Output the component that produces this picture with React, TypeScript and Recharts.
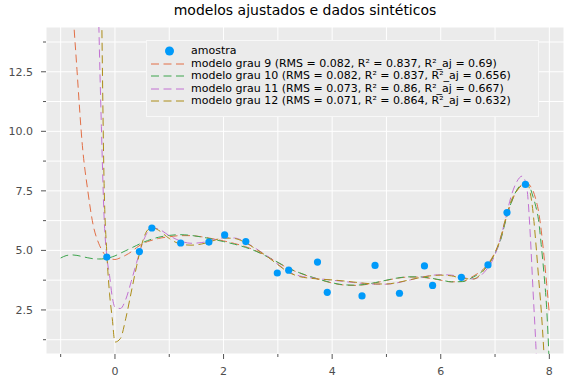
import { ComposedChart, Line, Scatter, XAxis, YAxis, CartesianGrid, Legend } from 'recharts';

// amostra (dados sintéticos)
const sampleX = [-0.15, 0.45, 0.68, 1.21, 1.73, 2.02, 2.41, 2.99, 3.2, 3.73, 3.91, 4.55, 4.79, 5.24, 5.7, 5.85, 6.38, 6.87, 7.22, 7.56];
const sampleY = [4.72, 4.95, 5.94, 5.31, 5.35, 5.65, 5.37, 4.05, 4.17, 4.51, 3.24, 3.09, 4.37, 3.2, 4.35, 3.53, 3.87, 4.39, 6.59, 7.77];

// grade de x dos modelos
const xGrid = [
  -1.0, -0.9, -0.8, -0.7, -0.6, -0.5, -0.4, -0.3, -0.25, -0.2, -0.15, -0.1, -0.05, 0,
  0.1, 0.2, 0.3, 0.4, 0.5, 0.6, 0.7, 0.8,
  1.0, 1.2, 1.4, 1.6, 1.8, 2.0, 2.2, 2.4, 2.6, 2.8, 3.0, 3.2, 3.4, 3.6, 3.8, 4.0,
  4.2, 4.4, 4.6, 4.8, 5.0, 5.2, 5.4, 5.6, 5.8, 6.0, 6.2, 6.4, 6.6, 6.8, 7.0,
  7.1, 7.2, 7.3, 7.4, 7.5, 7.55, 7.6, 7.65, 7.7, 7.75, 7.8, 7.85, 7.9, 7.95, 8.0,
];

const grau9 = [
  30, 22, 16.2, 12.6, 9.4, 7.5, 6.05, 5.3, 5.05, 4.86, 4.74, 4.67, 4.63, 4.62,
  4.69, 4.8, 4.94, 5.12, 5.27, 5.37, 5.44, 5.5,
  5.57, 5.62, 5.62, 5.57, 5.49, 5.4, 5.29, 5.16, 4.98, 4.75, 4.49, 4.24, 4.05, 3.89, 3.75, 3.63,
  3.55, 3.53, 3.56, 3.64, 3.74, 3.83, 3.88, 3.88, 3.83, 3.75, 3.68, 3.7, 3.92, 4.25, 4.92,
  5.45, 6.3, 7.0, 7.5, 7.77, 7.83, 7.82, 7.7, 7.5, 7.15, 6.65, 5.85, 4.8, 3.6, 2.35,
];

const grau10 = [
  4.68, 4.78, 4.81, 4.79, 4.74, 4.69, 4.65, 4.64, 4.64, 4.65, 4.67, 4.69, 4.73, 4.77,
  4.88, 4.99, 5.1, 5.21, 5.32, 5.41, 5.49, 5.55,
  5.63, 5.66, 5.63, 5.56, 5.47, 5.37, 5.26, 5.13, 4.96, 4.74, 4.5, 4.25, 4.06, 3.9, 3.76, 3.64,
  3.56, 3.54, 3.57, 3.65, 3.75, 3.84, 3.89, 3.89, 3.84, 3.76, 3.68, 3.69, 3.88, 4.2, 4.88,
  5.42, 6.28, 7.02, 7.53, 7.8, 7.83, 7.8, 7.6, 7.25, 6.85, 6.29, 5.25, 4.05, 2.6, 0.2,
];

const grau11 = [
  300, 220, 160, 110, 75, 48, 28, 14.8, 10.2, 6.4, 4.75, 3.95, 3.05, 2.62,
  2.56, 2.95, 3.7, 4.5, 5.25, 5.77, 5.94, 5.9,
  5.62, 5.4, 5.3, 5.33, 5.43, 5.53, 5.52, 5.35, 5.07, 4.77, 4.42, 4.1, 3.93, 3.85, 3.8, 3.75,
  3.7, 3.65, 3.61, 3.58, 3.58, 3.64, 3.74, 3.85, 3.94, 3.98, 3.96, 3.87, 3.8, 4.08, 4.82,
  5.5, 6.4, 7.3, 7.88, 8.12, 7.95, 7.35, 5.6, 3.3, 1.1, -1.5, -4.5, -8, -12, -17,
];

const grau12 = [
  400, 300, 210, 140, 90, 58, 37, 24, 15.9, 7.8, 4.9, 3.2, 2.15, 1.15,
  1.3, 2.15, 3.25, 4.35, 5.3, 5.85, 5.95, 5.85,
  5.5, 5.27, 5.22, 5.27, 5.4, 5.52, 5.5, 5.33, 5.05, 4.75, 4.4, 4.08, 3.9, 3.83, 3.79, 3.76,
  3.72, 3.67, 3.62, 3.59, 3.59, 3.65, 3.75, 3.85, 3.93, 3.96, 3.93, 3.82, 3.8, 4.18, 4.9,
  5.52, 6.38, 7.1, 7.5, 7.75, 7.82, 7.8, 7.4, 6.6, 5.35, 3.91, 2.5, 0.7, -1.5, -4.5,
];

const modelNames = [
  'modelo grau 9 (RMS = 0.082, R² = 0.837, R²_aj = 0.69)',
  'modelo grau 10 (RMS = 0.082, R² = 0.837, R²_aj = 0.656)',
  'modelo grau 11 (RMS = 0.073, R² = 0.86, R²_aj = 0.667)',
  'modelo grau 12 (RMS = 0.071, R² = 0.864, R²_aj = 0.632)',
];
const modelColors = ['#E26F46', '#3DA44D', '#C271D2', '#AC8D18'];
const modelValues = [grau9, grau10, grau11, grau12];

const xTicks = [-1, 0, 1, 2, 3, 4, 5, 6, 7, 8];
const yTicks = [1.25, 2.5, 3.75, 5, 6.25, 7.5, 8.75, 10, 11.25, 12.5, 13.75];

const FONT = 'DejaVu Sans';
const DASH = '8 4.5';

const samples = sampleX.map((x, i) => ({ x, y: sampleY[i] }));
const models = modelValues.map((ys) => xGrid.map((x, i) => ({ x, y: ys[i] })));

const XTick = (props: any) => {
  const { x, y, payload } = props;
  const v = payload.value;
  const major = Math.abs(v / 2 - Math.round(v / 2)) < 1e-9;
  return (
    <g>
      <line x1={x} x2={x} y1={y} y2={y + (major ? 5 : 3)} stroke="#555" />
      {major && (
        <text x={x} y={y + 21} textAnchor="middle" fontSize={11} fill="#4d4d4d" fontFamily={FONT}>
          {v}
        </text>
      )}
    </g>
  );
};

const YTick = (props: any) => {
  const { x, y, payload } = props;
  const v = payload.value;
  const major = Math.abs(v / 2.5 - Math.round(v / 2.5)) < 1e-9;
  return (
    <g>
      <line x1={x} x2={x - (major ? 5 : 3)} y1={y} y2={y} stroke="#555" />
      {major && (
        <text x={x - 13} y={y + 4} textAnchor="end" fontSize={11} fill="#4d4d4d" fontFamily={FONT}>
          {v.toFixed(1)}
        </text>
      )}
    </g>
  );
};

const legendRow = (symbol: React.ReactNode, label: string) => (
  <div key={label} style={{ display: 'flex', alignItems: 'center', height: 12.5 }}>
    <svg width={44} height={12} style={{ flex: 'none' }}>
      {symbol}
    </svg>
    <span style={{ whiteSpace: 'nowrap' }}>{label}</span>
  </div>
);

const renderLegend = () => (
  <div
    style={{
      background: '#EBEBEB',
      border: '1px solid #F8F8F8',
      padding: '4px 0 8px 0',
      width: 391,
      fontFamily: FONT,
      fontSize: 11,
      color: '#000',
      lineHeight: '12.5px',
    }}
  >
    {legendRow(<circle cx={22.5} cy={6} r={4.5} fill="#009AFA" />, 'amostra')}
    {modelNames.map((name, i) =>
      legendRow(
        <line x1={4} x2={37} y1={6} y2={6} stroke={modelColors[i]} strokeWidth={1} strokeDasharray={DASH} />,
        name,
      ),
    )}
  </div>
);

export default function App() {
  return (
    <div style={{ position: 'absolute', left: 0, top: 0, width: 576, height: 384, background: '#fff' }}>
      <div
        style={{
          position: 'absolute',
          top: 0,
          left: 46,
          width: 518,
          textAlign: 'center',
          fontFamily: FONT,
          fontSize: 14,
          lineHeight: '20px',
          color: '#000',
        }}
      >
        modelos ajustados e dados sintéticos
      </div>
      <ComposedChart width={576} height={384} margin={{ top: 27, right: 12, bottom: 0, left: 0 }}>
        <CartesianGrid fill="#EBEBEB" stroke="#FFFFFF" strokeWidth={1} />
        <XAxis
          type="number"
          dataKey="x"
          domain={[-1.27, 8.27]}
          allowDataOverflow
          ticks={xTicks}
          interval={0}
          height={30}
          axisLine={false}
          tickLine={false}
          tickSize={0}
          tickMargin={0}
          tick={<XTick />}
        />
        <YAxis
          type="number"
          dataKey="y"
          domain={[0.65, 14.38]}
          allowDataOverflow
          ticks={yTicks}
          interval={0}
          width={46}
          axisLine={false}
          tickLine={false}
          tickSize={0}
          tickMargin={0}
          tick={<YTick />}
        />
        <Scatter
          name="amostra"
          data={samples}
          dataKey="y"
          fill="#009AFA"
          isAnimationActive={false}
          shape={(p: any) => <circle cx={p.cx} cy={p.cy} r={3.6} fill="#009AFA" />}
        />
        {models.map((d, i) => (
          <Line
            key={modelNames[i]}
            name={modelNames[i]}
            data={d}
            dataKey="y"
            type="monotone"
            stroke={modelColors[i]}
            strokeWidth={1}
            strokeDasharray={DASH}
            dot={false}
            activeDot={false}
            isAnimationActive={false}
          />
        ))}
        <Legend
          layout="vertical"
          align="center"
          verticalAlign="middle"
          content={renderLegend}
          wrapperStyle={{ position: 'absolute', top: 40, left: 146, width: 393, height: 75 }}
        />
      </ComposedChart>
    </div>
  );
}
